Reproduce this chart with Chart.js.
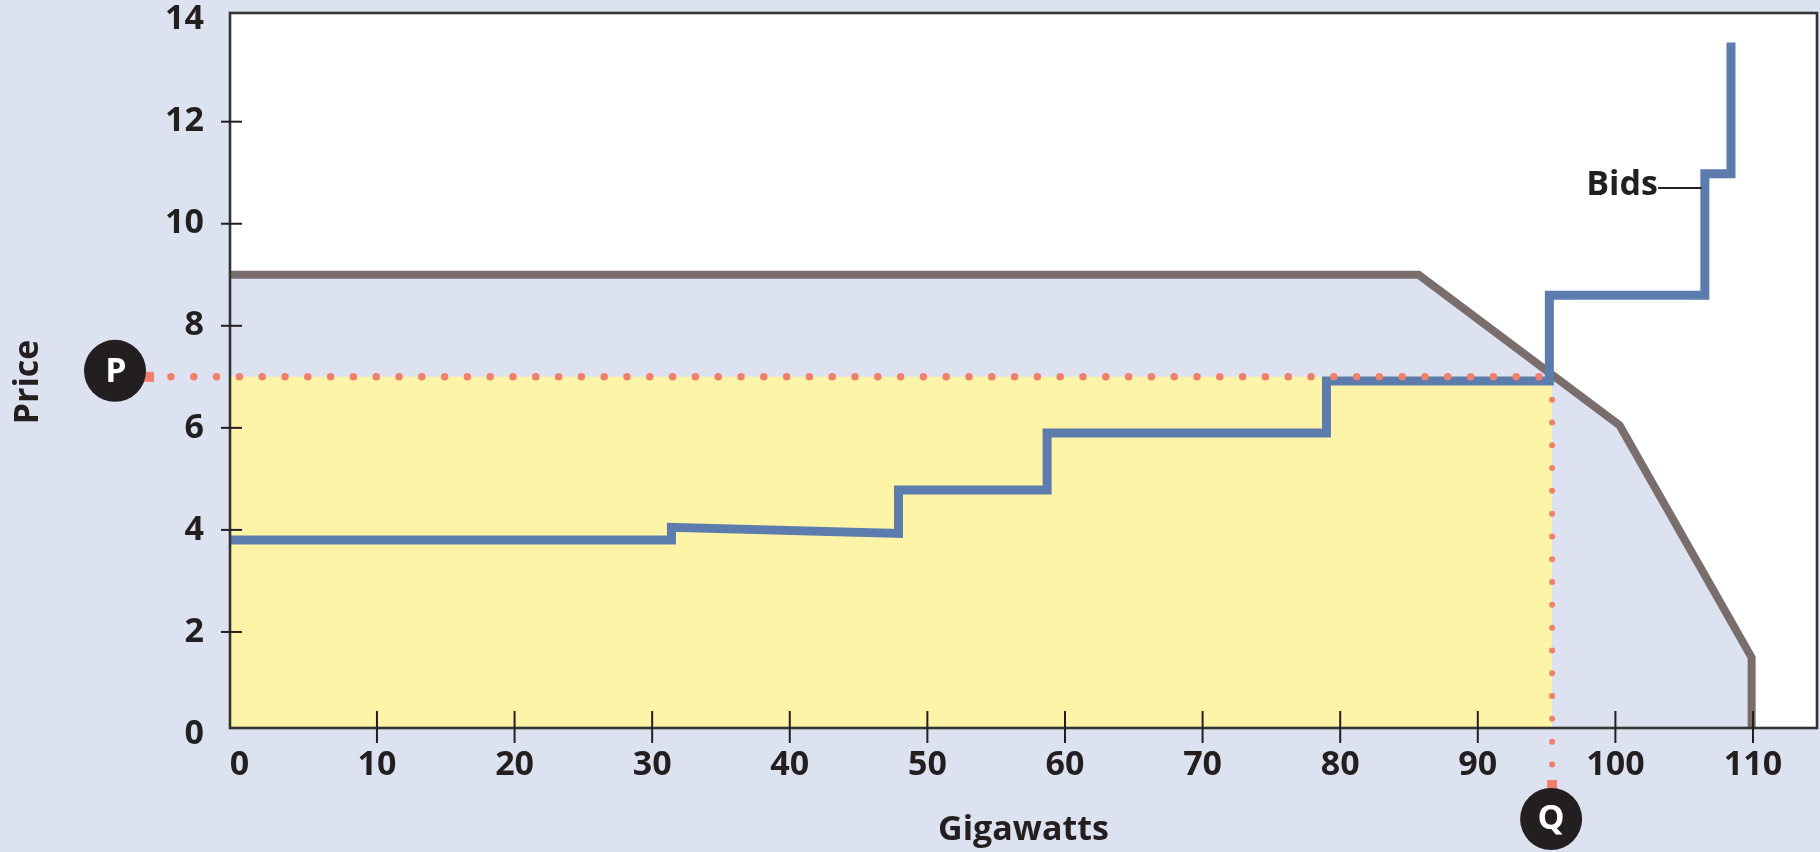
<!DOCTYPE html>
<html><head><meta charset="utf-8">
<script src="https://cdn.jsdelivr.net/npm/chart.js@4.4.1/dist/chart.umd.min.js"></script>
<style>html,body{margin:0;padding:0;background:#dce2ef;}canvas{display:block;}</style>
</head><body>
<canvas id="c" width="1820" height="852" style="width:1820px;height:852px"></canvas>
<script>
// ---- data ----
const xTickValues = [0,10,20,30,40,50,60,70,80,90,100,110];
const yTickValues = [0,2,4,6,8,10,12,14];
const bidsX = [-0.68, 31.4, 31.4, 47.9, 47.9, 58.7, 58.7, 79.0, 79.0, 95.2, 95.2, 106.5, 106.5, 108.4, 108.4];
const bidsY = [3.8, 3.8, 4.05, 3.93, 4.78, 4.78, 5.9, 5.9, 6.92, 6.92, 8.6, 8.6, 10.98, 10.98, 13.55];
const demandX = [-0.68, 85.7, 100.3, 109.9, 109.9];
const demandY = [9.0, 9.0, 6.05, 1.5, 0];
const clearingPrice = 7.0;      // P
const clearingQuantity = 95.4;  // Q
const axisStart = -0.68;
const bidsLabelAt = {x:106.5, y:10.7};

// ---- style ----
const BG = '#dce2ef', INK = '#231f20', BLUE = '#5c7cae', GRAY = '#7a6e6c', YELLOW = '#fef4a8', RED = '#f0806c';
const FAM = '"Open Sans", "Noto Sans", sans-serif';

function seg(ctx, x1, y1, x2, y2){ ctx.beginPath(); ctx.moveTo(x1,y1); ctx.lineTo(x2,y2); ctx.stroke(); }

const decor = {
  id: 'decor',
  beforeDatasetsDraw(chart){
    const {ctx, chartArea:a} = chart;
    ctx.save(); ctx.fillStyle = '#fff';
    ctx.fillRect(a.left, a.top, a.right-a.left, a.bottom-a.top);
    ctx.restore();
  },
  afterDatasetsDraw(chart){
    const {ctx, chartArea:a, scales:{x, y}} = chart;
    ctx.save();
    // frame
    ctx.strokeStyle = '#333'; ctx.lineWidth = 2.6;
    ctx.strokeRect(a.left, a.top, a.right-a.left, a.bottom-a.top);
    // tick marks crossing the axes
    ctx.lineWidth = 2; ctx.strokeStyle = INK;
    yTickValues.slice(1, -1).forEach(v => { const py = y.getPixelForValue(v); seg(ctx, a.left-9, py, a.left+12, py); });
    xTickValues.slice(1).forEach(v => { const px = x.getPixelForValue(v); seg(ctx, px, a.bottom-17, px, a.bottom+15); });

    // P / Q dotted guides
    const px = x.getPixelForValue(clearingQuantity), py = y.getPixelForValue(clearingPrice);
    const r = 31;
    const pcx = 115, pcy = py - 6;
    const qcx = px - 1, qcy = 819;
    ctx.strokeStyle = RED; ctx.fillStyle = RED; ctx.lineCap = 'round';
    ctx.setLineDash([0, 22.8]);
    ctx.lineWidth = 7.5;
    seg(ctx, pcx + r + 25, py, px, py);
    ctx.lineWidth = 6;
    seg(ctx, px, py + 22.8, px, qcy - r - 8);
    ctx.setLineDash([]);
    ctx.fillRect(pcx + r - 2, py - 5, 10, 10);
    ctx.fillRect(px - 5, qcy - r - 8, 10, 10);

    // circles
    ctx.fillStyle = INK;
    ctx.beginPath(); ctx.arc(pcx, pcy, r, 0, Math.PI*2); ctx.fill();
    ctx.beginPath(); ctx.arc(qcx, qcy, r, 0, Math.PI*2); ctx.fill();
    ctx.fillStyle = '#fff'; ctx.font = '700 34px ' + FAM;
    ctx.textAlign = 'center'; ctx.textBaseline = 'middle';
    ctx.fillText('P', pcx + 1, pcy + 1);
    ctx.fillText('Q', qcx, qcy);

    // Bids label + leader
    const bx = x.getPixelForValue(bidsLabelAt.x) - 4, by = y.getPixelForValue(bidsLabelAt.y);
    ctx.strokeStyle = INK; ctx.lineWidth = 2;
    seg(ctx, bx - 42, by, bx, by);
    ctx.fillStyle = INK; ctx.textAlign = 'right';
    ctx.fillText('Bids', bx - 43, by - 3);

    // axis titles
    ctx.textAlign = 'center';
    ctx.fillText('Gigawatts', (a.left + a.right)/2, 830);
    ctx.translate(28, 382); ctx.rotate(-Math.PI/2);
    ctx.fillText('Price', 0, 0);
    ctx.restore();
  }
};

const tickFont = {family: FAM, weight: '700', size: 34};
function noPad(s){ s.paddingTop = 0; s.paddingBottom = 0; s.paddingLeft = 0; s.paddingRight = 0; }

new Chart(document.getElementById('c'), {
  type: 'line',
  data: {
    datasets: [
      {label:'Bids', data: bidsX.map((v,i)=>({x:v, y:bidsY[i]})), borderColor: BLUE, borderWidth: 9,
       fill:false, pointRadius:0, tension:0, borderJoinStyle:'miter', borderCapStyle:'butt', order:1},
      {label:'Revenue', data: [{x:axisStart, y:clearingPrice},{x:clearingQuantity, y:clearingPrice}],
       borderColor:'transparent', borderWidth:0, backgroundColor: YELLOW, fill:'start', pointRadius:0, order:2},
      {label:'Demand', data: demandX.map((v,i)=>({x:v, y:demandY[i]})), borderColor: GRAY, borderWidth: 8,
       backgroundColor: BG, fill:'start', pointRadius:0, tension:0, borderJoinStyle:'miter', order:3, clip:0}
    ]
  },
  options: {
    responsive:false, animation:false, devicePixelRatio:1,
    layout:{padding:{top:13, right:3, left:0, bottom:0}},
    plugins:{legend:{display:false}, tooltip:{enabled:false}},
    scales:{
      x:{type:'linear', min:-0.68, max:114.65,
         afterBuildTicks: s => { s.ticks = xTickValues.map(v => ({value:v})); },
         afterFit: s => { s.height = 124; noPad(s); },
         grid:{display:false, drawTicks:false}, border:{display:false},
         ticks:{padding:17, color:INK, font:tickFont, autoSkip:false, maxRotation:0}},
      y:{type:'linear', min:0.118, max:14.13,
         afterBuildTicks: s => { s.ticks = yTickValues.map(v => ({value:v})); },
         afterFit: s => { s.width = 230; noPad(s); },
         grid:{display:false, drawTicks:false}, border:{display:false},
         ticks:{padding:26, color:INK, font:tickFont, autoSkip:false}}
    }
  },
  plugins:[decor]
});
</script>
</body></html>
